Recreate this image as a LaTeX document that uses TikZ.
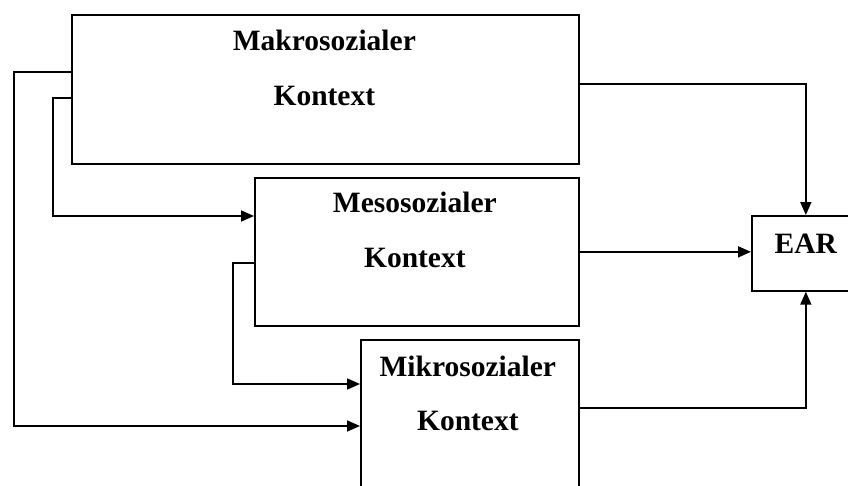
\documentclass[tikz,border=0pt]{standalone}
\usepackage{fontspec}
\setmainfont{Liberation Serif}
\usepackage{tikz}
\usetikzlibrary{arrows.meta,calc,positioning}
\tikzset{ctxbox/.style={draw=black, line width=1.7pt, anchor=north west, inner sep=0pt}}
\tikzset{ctxtext/.style={anchor=base, inner sep=0pt, font=\fontsize{29.5}{34}\selectfont\bfseries}}
\tikzset{flow/.style={line width=1.7pt, -{Triangle[length=13pt,width=11pt]}}}

\begin{document}
\begin{tikzpicture}[x=1pt,y=-1pt]
    \useasboundingbox (0,0) rectangle (848,485);
    \clip (0,0) rectangle (848,485);

    \node[ctxbox, minimum width=507, minimum height=149] (makro) at (71,14) {};
    \node[ctxbox, minimum width=324, minimum height=148] (meso) at (254,177) {};
    \node[ctxbox, minimum width=218, minimum height=148] (mikro) at (360,339) {};
    \node[ctxbox, minimum width=108, minimum height=75] (ear) at (751,215) {};

    \node[ctxtext] (makro1) at ($(makro.north)+(-1,36)$) {Makrosozialer};
    \node[ctxtext] (makro2) at ($(makro1.base)+(0,55)$) {Kontext};
    \node[ctxtext] (meso1) at ($(meso.north)+(-2,35)$) {Mesosozialer};
    \node[ctxtext] (meso2) at ($(meso1.base)+(0,55)$) {Kontext};
    \node[ctxtext] (mikro1) at ($(mikro.north)+(-2,37)$) {Mikrosozialer};
    \node[ctxtext] (mikro2) at ($(mikro1.base)+(0,54)$) {Kontext};
    \node[ctxtext] (eartext) at ($(ear.north)+(0,38)$) {EAR};

    % left side
    \draw[flow] ([yshift=-58pt]makro.north west) -- ++(-57,0) |- ([yshift=-87pt]mikro.north west);
    \draw[flow] ([yshift=-84pt]makro.north west) -- ++(-18,0) |- ([yshift=-39pt]meso.north west);
    \draw[flow] ([yshift=-86pt]meso.north west) -- ++(-21,0) |- ([yshift=-45pt]mikro.north west);

    % into EAR
    \draw[flow] ([yshift=-70pt]makro.north east) -| (ear.north);
    \draw[flow] (meso.east) -- (meso.east -| ear.west);
    \draw[flow] ([yshift=-69pt]mikro.north east) -| (ear.south);

\end{tikzpicture}
\end{document}
